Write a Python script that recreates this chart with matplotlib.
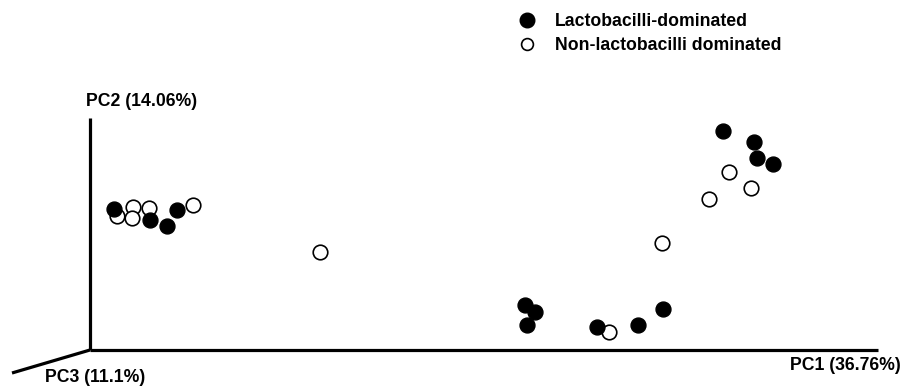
import matplotlib
matplotlib.use("Agg")
import matplotlib.pyplot as plt
from matplotlib.lines import Line2D

plt.rcParams['font.family'] = ['Liberation Sans', 'DejaVu Sans']

# PCoA scores (PC1, PC2) projected on the plane of the 3D plot
lacto_pc1 = [0.24, 0.60, 0.77, 0.87, 4.35, 4.45, 4.37, 5.07, 5.48, 5.73, 6.33, 6.64, 6.67, 6.83]
lacto_pc2 = [1.41, 1.30, 1.24, 1.40, 0.45, 0.38, 0.25, 0.23, 0.25, 0.41, 2.19, 2.08, 1.92, 1.86]

non_lacto_pc1 = [0.27, 0.43, 0.42, 0.59, 1.03, 2.30, 5.19, 5.72, 6.39, 6.61, 6.19]
non_lacto_pc2 = [1.34, 1.43, 1.32, 1.42, 1.45, 0.98, 0.18, 1.07, 1.78, 1.62, 1.51]

axis_labels = ["PC1 (36.76%)", "PC2 (14.06%)", "PC3 (11.1%)"]
group_labels = ["Lactobacilli-dominated", "Non-lactobacilli dominated"]

fs = 12.7

fig = plt.figure(figsize=(9.05, 3.88), dpi=100)
ax = fig.add_axes([0, 0, 1, 1])
ax.set_xlim(-0.9, 8.15)
ax.set_ylim(-0.38, 3.50)
ax.axis('off')

# pseudo-3D axes
lw = 2.3
ax.plot([0, 7.88], [0, 0], color='black', lw=lw, solid_capstyle='butt')
ax.plot([0, 0], [0, 2.32], color='black', lw=lw, solid_capstyle='butt')
ax.plot([0, -0.78], [0, -0.23], color='black', lw=lw, solid_capstyle='butt')

ax.text(8.11, -0.16, axis_labels[0], ha='right', va='center', fontsize=fs, fontweight='bold')
ax.text(-0.04, 2.48, axis_labels[1], ha='left', va='center', fontsize=fs, fontweight='bold')
ax.text(-0.45, -0.27, axis_labels[2], ha='left', va='center', fontsize=fs, fontweight='bold')

ax.scatter(non_lacto_pc1, non_lacto_pc2, s=110, facecolor='white', edgecolor='black',
           linewidth=1.2, zorder=3)
ax.scatter(lacto_pc1, lacto_pc2, s=115, color='black', zorder=4)

handles = [
    Line2D([], [], marker='o', ls='none', color='black', markersize=10.5),
    Line2D([], [], marker='o', ls='none', markerfacecolor='white',
           markeredgecolor='black', markeredgewidth=1.2, markersize=8.5),
]
ax.legend(handles, group_labels, loc='upper left', bbox_to_anchor=(0.545, 1.007),
          frameon=False, prop={'weight': 'bold', 'size': fs},
          handletextpad=0.6, labelspacing=0.4)

fig.savefig('out.png', dpi=100)
